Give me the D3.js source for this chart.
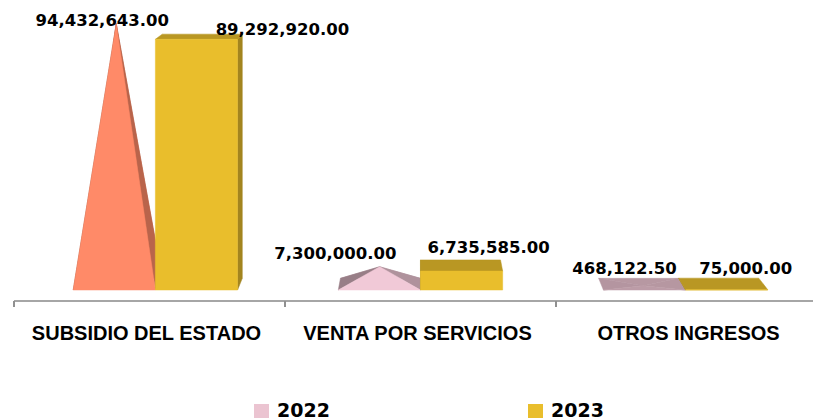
<!DOCTYPE html>
<html>
<head>
<meta charset="utf-8">
<script src="https://cdn.jsdelivr.net/npm/d3@7"></script>
<style>
  body { margin: 0; background: #fff; }
  svg { display: block; }
</style>
</head>
<body>
<div id="chart"></div>
<script>
const categories = ["SUBSIDIO DEL ESTADO", "VENTA POR SERVICIOS", "OTROS INGRESOS"];
const series = ["2022", "2023"];
const values2022 = [94432643.00, 7300000.00, 468122.50];
const values2023 = [89292920.00, 6735585.00, 75000.00];

const seriesColor = { "2022": "#EBC4D1", "2023": "#E9BE2C" };
// first 2022 point is painted salmon in the original
const pointColor2022 = ["#FF8A68", "#F1C9D7", "#EFC6D4"];

// manual nudges of the data labels (px), like the dragged labels in the original
const labelNudge = {
  "2022": [[-12, 1], [-44, -11], [-20, -15]],
  "2023": [[86, -4], [27, -18], [19, -16]]
};

const width = 813, height = 420;

const svg = d3.select("#chart").append("svg")
  .attr("width", width)
  .attr("height", height);

const x = d3.scaleBand().domain(categories).range([14, 827]).padding(0);
const xs = d3.scaleBand().domain(series).range([0, x.bandwidth()])
  .paddingInner(0).paddingOuter(0.613);
const y = d3.scaleLinear().domain([0, 100e6]).range([300, 13]);

// simple perspective: points pulled toward a vanishing point as depth grows
const vp = { x: 420, y: -160 };
const zFront = 0.0217, zBack = 0.0471;
const zApex = zFront + 0.25 * (zBack - zFront);
const proj = (px, py, z) => [px + z * (vp.x - px), py + z * (vp.y - py)];

const poly = (g, pts, fill) => g.append("polygon")
  .attr("points", pts.map(p => p.join(",")).join(" "))
  .style("fill", fill)
  .style("stroke", fill)
  .style("stroke-width", 0.5)
  .style("stroke-linejoin", "round");

const data = [];
categories.forEach((c, i) => {
  data.push({ cat: c, s: "2022", v: values2022[i], i: i, color: pointColor2022[i] });
  data.push({ cat: c, s: "2023", v: values2023[i], i: i, color: seriesColor["2023"] });
});

const bars = svg.append("g");

data.forEach(d => {
  const g = bars.append("g");
  const x0 = x(d.cat) + xs(d.s), x1 = x0 + xs.bandwidth();
  const yt = y(d.v), yb = y(0);
  const base = d3.color(d.color);
  const topShade = base.darker(0.75);
  const FL = proj(x0, yb, zFront), FR = proj(x1, yb, zFront);
  const BL = proj(x0, yb, zBack), BR = proj(x1, yb, zBack);

  if (d.s === "2022") {
    // pyramid
    const A = proj((x0 + x1) / 2, yt, zApex);
    const steep = Math.min(1, (yb - yt) / 15);
    const mix = (c) => d3.interpolateRgb(topShade, c)(steep);
    poly(g, [BL, BR, A], topShade.formatHex());
    poly(g, [FL, BL, A], mix(base.darker(1.3)));
    poly(g, [FR, BR, A], mix(base.darker(0.9)));
    poly(g, [FL, FR, A], mix(base));
  } else {
    // box
    const FTL = proj(x0, yt, zFront), FTR = proj(x1, yt, zFront);
    const BTL = proj(x0, yt, zBack), BTR = proj(x1, yt, zBack);
    if (BTR[0] > FTR[0]) poly(g, [FR, FTR, BTR, BR], base.darker(1).formatHex());
    if (BTL[0] < FTL[0]) poly(g, [FL, FTL, BTL, BL], base.darker(1).formatHex());
    poly(g, [FTL, FTR, BTR, BTL], base.darker(0.65).formatHex());
    poly(g, [FL, FR, FTR, FTL], base.formatHex());
  }
});

// data labels
const fmt = d3.format(",.2f");
const labelAt = d => proj(x(d.cat) + xs(d.s) + xs.bandwidth() / 2, y(d.v), zFront);
svg.append("g").selectAll("text")
  .data(data)
  .enter().append("text")
  .attr("x", d => labelAt(d)[0] + labelNudge[d.s][d.i][0])
  .attr("y", d => labelAt(d)[1] + labelNudge[d.s][d.i][1])
  .attr("text-anchor", "middle")
  .style("font-family", "'DejaVu Sans', sans-serif")
  .style("font-weight", "bold")
  .style("font-size", "16.5px")
  .style("fill", "#000")
  .text(d => fmt(d.v));

// category axis
const axis = svg.append("g");
axis.append("line")
  .attr("x1", x.range()[0]).attr("x2", x.range()[1])
  .attr("y1", 301).attr("y2", 301)
  .style("stroke", "#A6A6A6")
  .style("stroke-width", 2);
axis.selectAll(".tick")
  .data(categories)
  .enter().append("line")
  .attr("x1", d => x(d)).attr("x2", d => x(d))
  .attr("y1", 301).attr("y2", 307)
  .style("stroke", "#909090")
  .style("stroke-width", 2);
axis.selectAll(".cat")
  .data(categories)
  .enter().append("text")
  .attr("x", d => x(d) + x.bandwidth() / 2 - 3)
  .attr("y", 340)
  .attr("text-anchor", "middle")
  .style("font-family", "'Liberation Sans', Arial, sans-serif")
  .style("font-weight", "bold")
  .style("font-size", "20px")
  .style("fill", "#000")
  .text(d => d);

// legend
const lx = d3.scaleBand().domain(series).range([254, 802]);
const legend = svg.append("g");
legend.selectAll("rect")
  .data(series)
  .enter().append("rect")
  .attr("x", d => lx(d))
  .attr("y", 404)
  .attr("width", 15)
  .attr("height", 14)
  .style("fill", d => seriesColor[d]);
legend.selectAll("text")
  .data(series)
  .enter().append("text")
  .attr("x", d => lx(d) + 23)
  .attr("y", 417)
  .style("font-family", "'DejaVu Sans', sans-serif")
  .style("font-weight", "bold")
  .style("font-size", "19px")
  .style("fill", "#000")
  .text(d => d);
</script>
</body>
</html>
